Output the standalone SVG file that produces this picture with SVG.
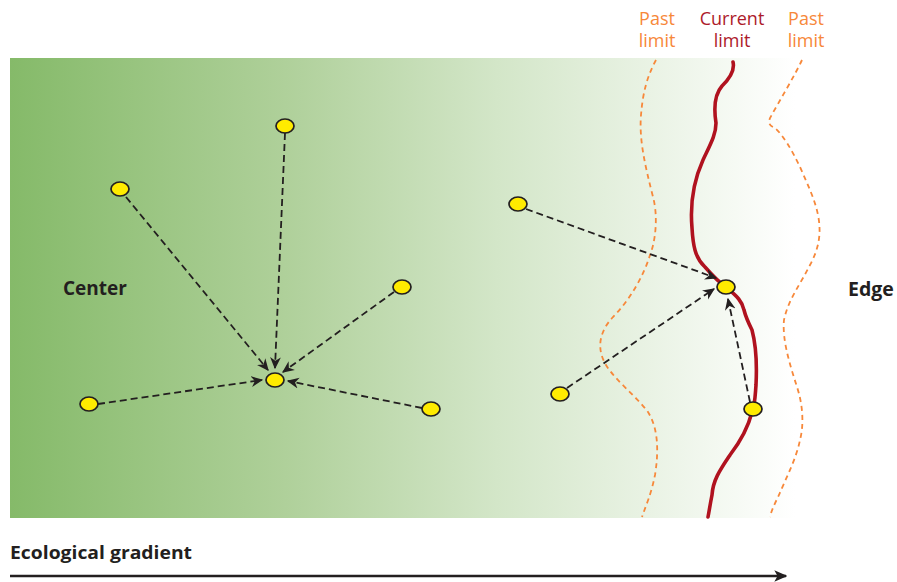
<svg xmlns="http://www.w3.org/2000/svg" width="897" height="582" viewBox="0 0 897 582">
<style>
.node{fill:#ffeb00;stroke:#231f20;stroke-width:1.7}
.link{fill:none;stroke:#231f20;stroke-width:1.8;stroke-dasharray:7 4;marker-end:url(#ah)}
.lbl{font-family:"Open Sans","Liberation Sans",sans-serif;font-weight:bold;fill:#231f20}
.top{font-family:"Open Sans","Liberation Sans",sans-serif;font-size:18px;text-anchor:middle}
.past{fill:none;stroke:#f7883a;stroke-width:1.8;stroke-dasharray:5 4}
</style>
<defs>
<linearGradient id="bg" x1="10" y1="0" x2="795" y2="0" gradientUnits="userSpaceOnUse">
<stop offset="0" stop-color="#85ba69"/>
<stop offset="0.35" stop-color="#afd09a"/>
<stop offset="0.62" stop-color="#d3e6c8"/>
<stop offset="0.82" stop-color="#eaf3e5"/>
<stop offset="1" stop-color="#ffffff"/>
</linearGradient>
<marker id="ah" viewBox="0 0 10 10" refX="9" refY="5" markerWidth="12" markerHeight="12" markerUnits="userSpaceOnUse" orient="auto">
<path d="M0,0.5 L10,5 L0,9.5 L3,5 Z" fill="#231f20"/>
</marker>
<marker id="big" viewBox="0 0 10 10" refX="9" refY="5" markerWidth="13" markerHeight="13" markerUnits="userSpaceOnUse" orient="auto">
<path d="M0,0.5 L10,5 L0,9.5 L2.5,5 Z" fill="#231f20"/>
</marker>
</defs>
<rect x="10" y="58" width="785" height="460" fill="url(#bg)"/>
<g id="limits">
<path class="past" d="M656,60 C648,75 643,90 641,115 C639,140 645,165 653,197 C658,215 656,240 650,255 C644,275 630,300 613,317 C598,333 597,350 606,365 C615,380 635,395 648,412 C658,428 659,450 655,475 C651,495 646,505 642,517"/>
<path class="past" d="M802,60 C795,75 780,100 770,118 C768,124 770,126 775,128 C783,135 792,150 800,167 C808,185 815,200 818,215 C822,235 818,250 810,265 C800,285 788,300 784,320 C782,340 790,365 797,387 C803,405 804,425 800,440 C796,460 785,480 779,495 C774,505 771,512 770,517"/>
<path fill="none" stroke="#b0121f" stroke-width="3.6" stroke-linecap="round" d="M733,62 C735,70 730,78 722,86 C714,95 714,110 716,123 C716,135 710,145 703,160 C694,180 690,205 692,228 C693,245 695,258 705,267 C712,275 720,283 726,287 C735,295 742,300 744,310 C746,318 748,322 752,330 C756,345 757,365 756,385 C755,398 755,405 752,412 C748,428 740,442 730,455 C720,470 713,480 712,495 C710,505 709,512 708,517"/>
</g>
<g id="labels">
<text class="top" fill="#f7883a"><tspan x="657" y="25">Past</tspan><tspan x="657" y="47">limit</tspan></text>
<text class="top" fill="#ad1a2a"><tspan x="732" y="25">Current</tspan><tspan x="732" y="47">limit</tspan></text>
<text class="top" fill="#f7883a"><tspan x="806" y="25">Past</tspan><tspan x="806" y="47">limit</tspan></text>
<text class="lbl" x="63" y="295" font-size="19">Center</text>
<text class="lbl" x="848" y="296" font-size="19.5">Edge</text>
<text class="lbl" x="10" y="559" font-size="17" textLength="182" lengthAdjust="spacingAndGlyphs">Ecological gradient</text>
</g>
<g id="connectors">
<path class="link" d="M126,197 L268,370"/>
<path class="link" d="M285,133 L275,368"/>
<path class="link" d="M394,292 L283,372"/>
<path class="link" d="M98,404 L262,380"/>
<path class="link" d="M422,408 L288,381"/>
<path class="link" d="M526,209 L716,278"/>
<path class="link" d="M567,388 L714,289"/>
<path class="link" d="M750,402 L728,299"/>
<path d="M10,576 L786,576" stroke="#231f20" stroke-width="2.6" fill="none" marker-end="url(#big)"/>
</g>
<g id="n1"><ellipse class="node" cx="285" cy="126" rx="9" ry="7"/></g>
<g id="n2"><ellipse class="node" cx="120" cy="189" rx="9" ry="7"/></g>
<g id="n3"><ellipse class="node" cx="402" cy="287" rx="9" ry="7"/></g>
<g id="n4"><ellipse class="node" cx="89" cy="404" rx="9" ry="7"/></g>
<g id="n5"><ellipse class="node" cx="431" cy="409" rx="9" ry="7"/></g>
<g id="hub1"><ellipse class="node" cx="275" cy="380" rx="9" ry="7"/></g>
<g id="n6"><ellipse class="node" cx="518" cy="204" rx="9" ry="7"/></g>
<g id="n7"><ellipse class="node" cx="560" cy="394" rx="9" ry="7"/></g>
<g id="hub2"><ellipse class="node" cx="726" cy="287" rx="9" ry="7"/></g>
<g id="n8"><ellipse class="node" cx="753" cy="409" rx="9" ry="7"/></g>
</svg>
